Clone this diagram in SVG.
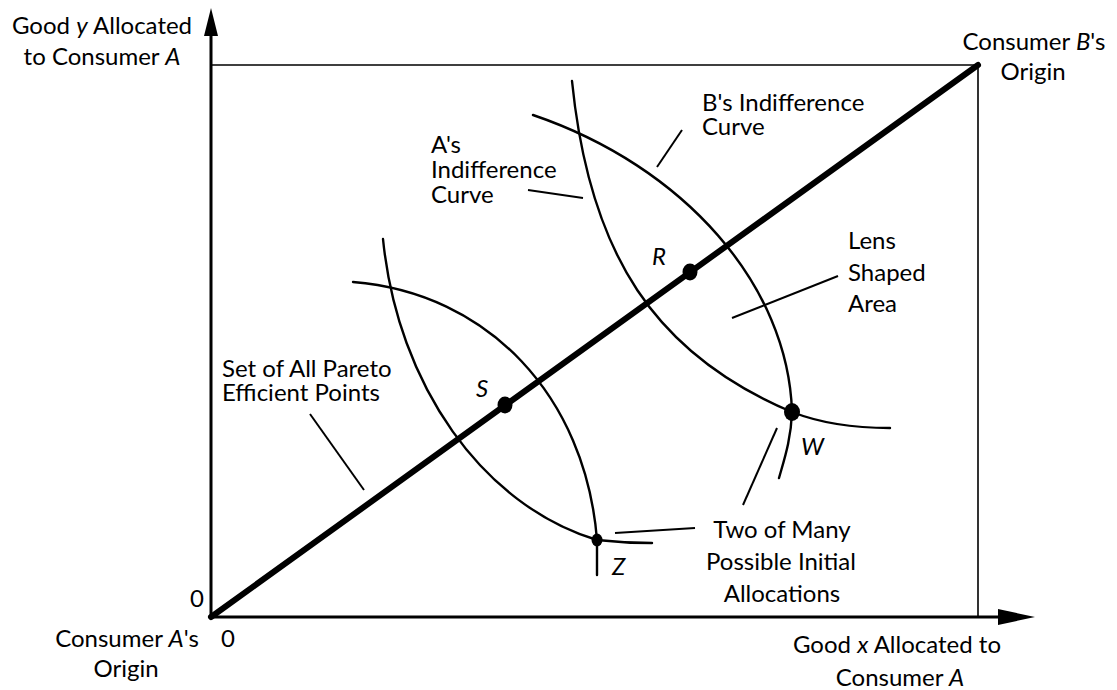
<svg xmlns="http://www.w3.org/2000/svg" width="1117" height="690" viewBox="0 0 1117 690">
<style>
text{font-family:Lato,"Open Sans","DejaVu Sans",sans-serif;font-size:24px;fill:#000}
.i{font-style:italic}
.m{text-anchor:middle}
.ax{stroke:#000;stroke-width:3;fill:none}
.box{stroke:#000;stroke-width:1.6;fill:none}
.cv{stroke:#000;stroke-width:2.4;fill:none;stroke-linecap:round}
.ld{stroke:#000;stroke-width:2;fill:none}
.dg{stroke:#000;stroke-width:6;fill:none;stroke-linecap:round}
</style>
<rect width="1117" height="690" fill="#fff"/>
<g id="axes">
<line class="ax" x1="211" y1="617" x2="211" y2="32"/>
<polygon points="211,8 204,36 218,36" fill="#000"/>
<line class="ax" x1="211" y1="617" x2="1002" y2="617"/>
<polygon points="1035,617 998,609 998,625" fill="#000"/>
<polyline class="box" points="211,65 978,65 978,617"/>
</g>
<g id="connectors">
<line class="dg" x1="211" y1="617" x2="978" y2="65"/>
<path class="cv" d="M572,81 C589.5,255 655.5,354.6 792,412 C815,421 850,428 890,428"/>
<path class="cv" d="M533,115 C684.6,166.6 788.2,285.4 792,412 C791,440 784,460 779,478"/>
<path class="cv" d="M383,239 C397.6,385.4 483.2,505.8 597,540 C615,542 635,543 652,543"/>
<path class="cv" d="M353,282 C487.9,292.8 585.5,396 597,540 C597,552 597,563 597,575"/>
<line class="ld" x1="528" y1="190" x2="583" y2="198"/>
<line class="ld" x1="682" y1="130" x2="657" y2="167"/>
<line class="ld" x1="732" y1="318" x2="838" y2="276"/>
<line class="ld" x1="310" y1="414" x2="364" y2="490"/>
<line class="ld" x1="777" y1="428" x2="743" y2="505"/>
<line class="ld" x1="615" y1="533" x2="695" y2="528"/>
</g>
<g id="point-S"><ellipse cx="505" cy="405" rx="7.5" ry="8.5"/><text class="i" x="476" y="397">S</text></g>
<g id="point-R"><ellipse cx="690" cy="272" rx="7.5" ry="8.5"/><text class="i" x="652" y="265">R</text></g>
<g id="point-W"><ellipse cx="792" cy="412" rx="8" ry="9"/><text class="i" x="801" y="455">W</text></g>
<g id="point-Z"><ellipse cx="597" cy="540" rx="5.5" ry="6.5"/><text class="i" x="612" y="575">Z</text></g>
<g id="label-yaxis"><text class="m" x="102" y="34">Good <tspan class="i">y</tspan> Allocated</text><text class="m" x="102" y="65">to Consumer <tspan class="i">A</tspan></text></g>
<g id="label-B-origin"><text class="m" x="1034" y="50">Consumer <tspan class="i">B</tspan>'s</text><text class="m" x="1033" y="80">Origin</text></g>
<g id="label-A-curve"><text x="431" y="153">A's</text><text x="431" y="178">Indifference</text><text x="431" y="203">Curve</text></g>
<g id="label-B-curve"><text x="702" y="111">B's Indifference</text><text x="702" y="135">Curve</text></g>
<g id="label-lens"><text x="848" y="249">Lens</text><text x="848" y="281">Shaped</text><text x="848" y="312">Area</text></g>
<g id="label-pareto"><text x="222" y="377">Set of All Pareto</text><text x="222" y="401">Efficient Points</text></g>
<g id="label-initial"><text class="m" x="782" y="538">Two of Many</text><text class="m" x="781" y="570">Possible Initial</text><text class="m" x="782" y="602">Allocations</text></g>
<g id="label-A-origin"><text x="197" y="607" class="m">0</text><text class="m" x="127" y="647">Consumer <tspan class="i">A</tspan>'s</text><text x="228" y="647" class="m">0</text><text class="m" x="126" y="677">Origin</text></g>
<g id="label-xaxis"><text class="m" x="897" y="653">Good <tspan class="i">x</tspan> Allocated to</text><text class="m" x="900" y="686">Consumer <tspan class="i">A</tspan></text></g>
</svg>
